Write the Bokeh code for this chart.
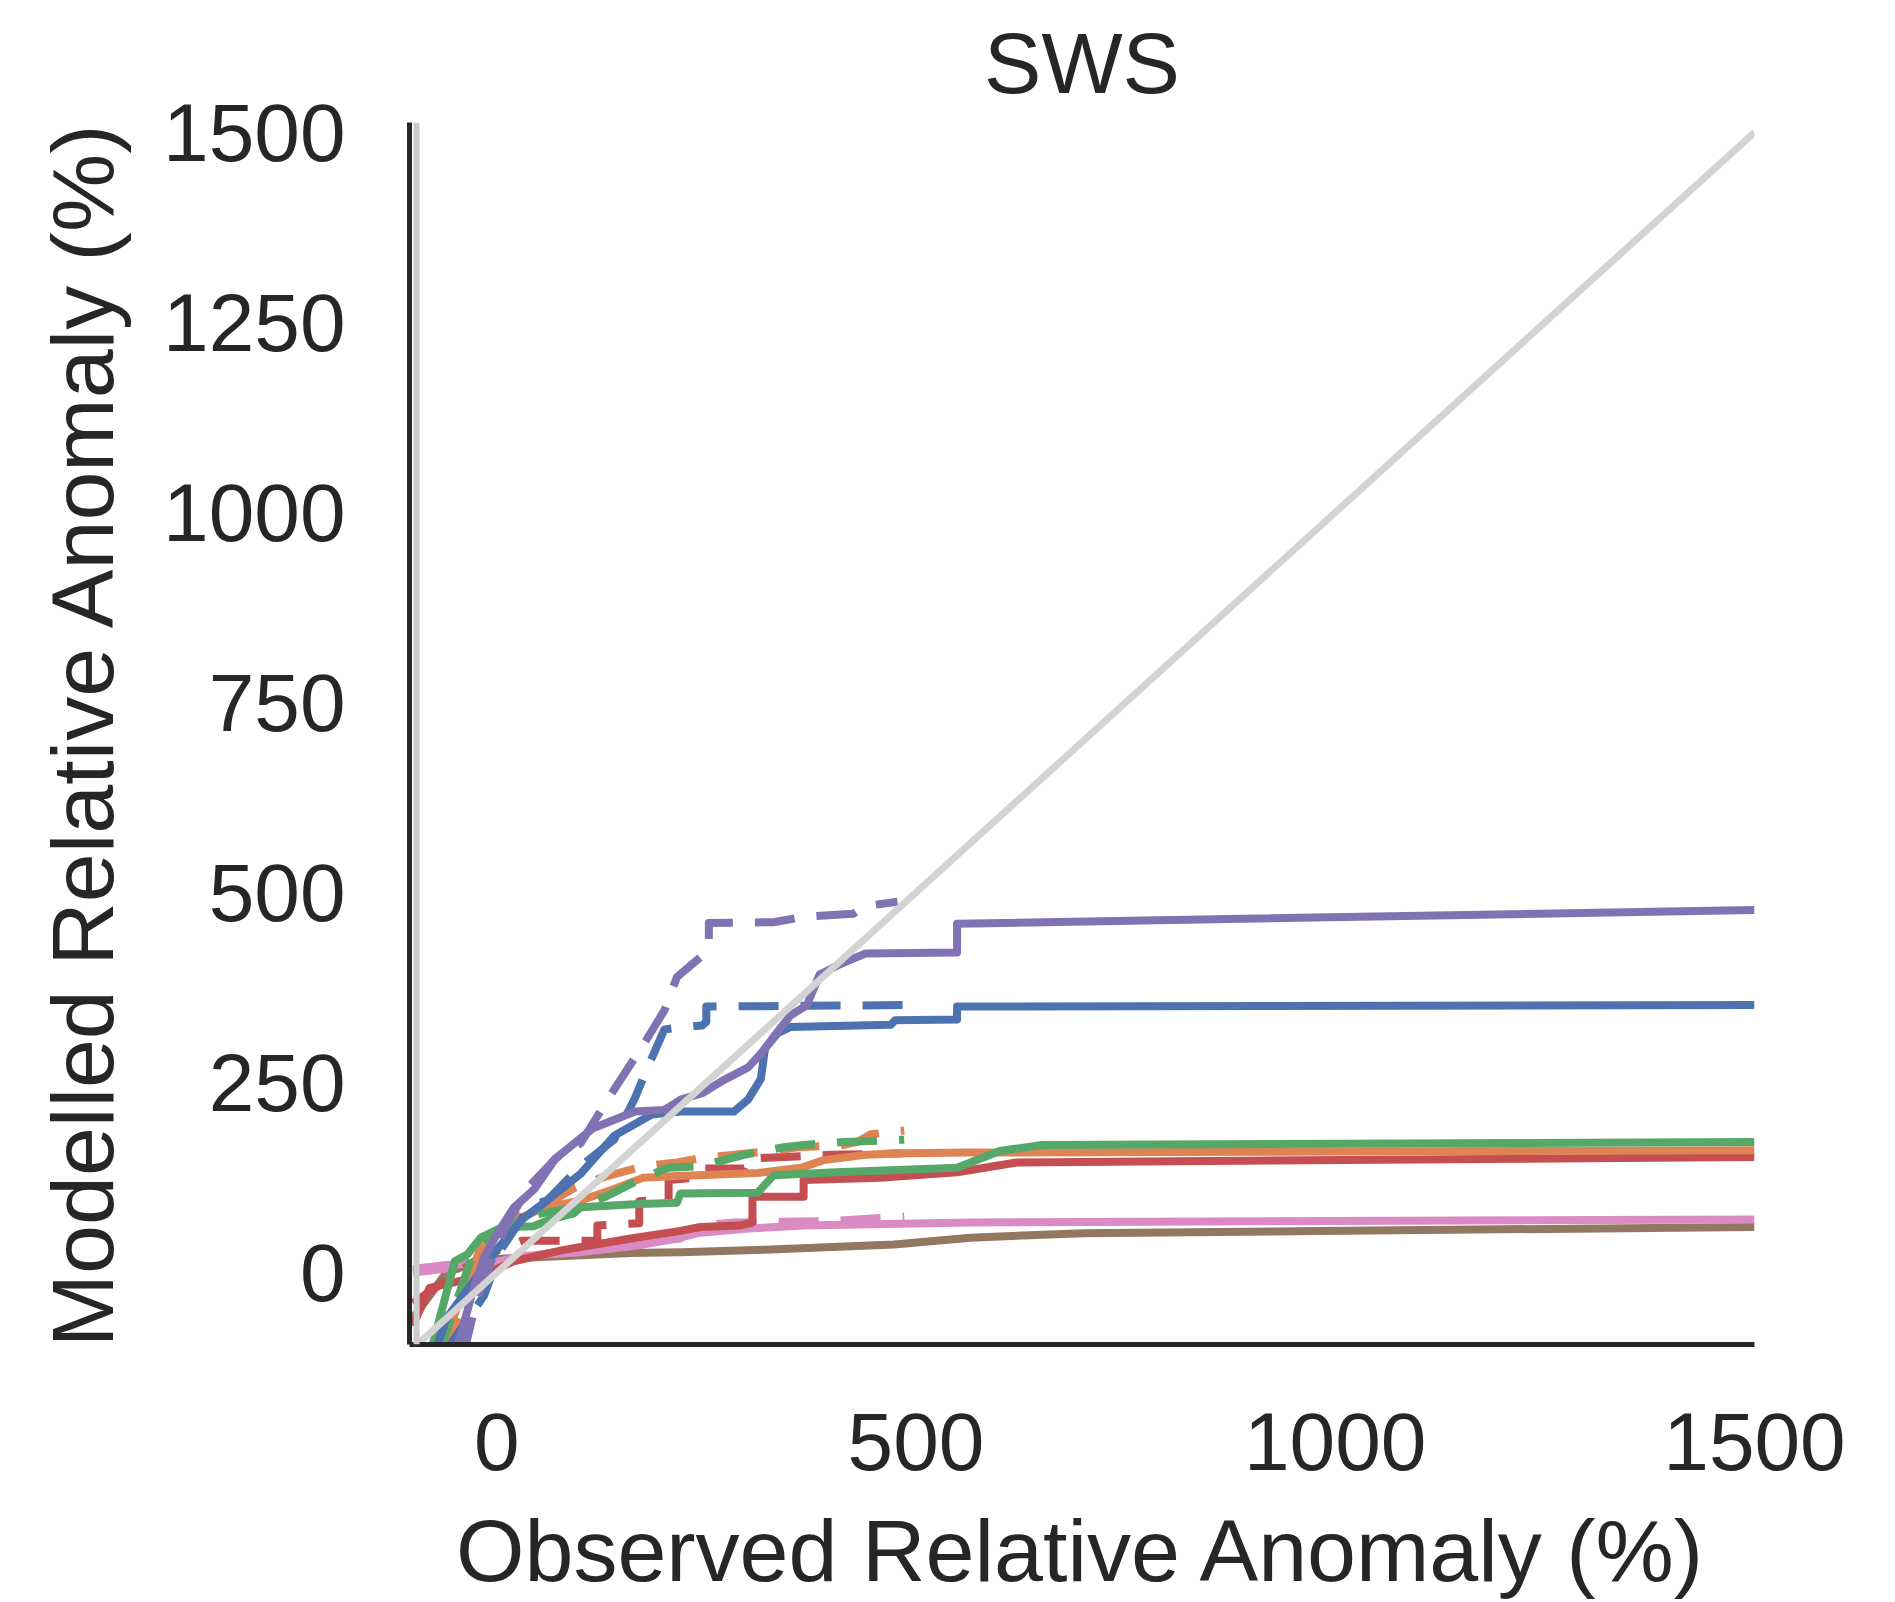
from bokeh.plotting import figure
from bokeh.models import Range1d, Span
from bokeh.embed import file_html
from bokeh.resources import INLINE

# ---------------- data ----------------
identity_x = [-100, 1500]
identity_y = [-100, 1500]

purple_solid_x = [-50, -30, -15, 0, 20, 45, 70, 115, 165, 200, 220, 245, 270, 300, 318, 330, 350, 370, 385, 410, 440, 549, 549, 1500]
purple_solid_y = [-110, -30, 20, 50, 85, 110, 150, 190, 212, 214, 228, 236, 253, 270, 292, 310, 338, 352, 392, 406, 420, 421, 459, 477]

purple_dash_x = [-40, -25, -5, 15, 40, 70, 100, 136, 175, 200, 215, 243, 253, 253, 330, 366, 425, 438, 478]
purple_dash_y = [-110, -40, 20, 70, 115, 150, 170, 234, 300, 345, 389, 415, 428, 460, 461, 468, 472, 482, 488]

blue_solid_x = [-75, -60, -20, 0, 30, 60, 100, 140, 185, 219, 283, 300, 315, 320, 335, 350, 470, 475, 549, 549, 1500]
blue_solid_y = [-110, -60, 0, 30, 70, 95, 130, 180, 208, 212, 212, 228, 255, 295, 315, 323, 326, 332, 333, 350, 352]

blue_dash_x = [-65, -15, 5, 40, 60, 100, 140, 165, 180, 200, 220, 245, 250, 250, 486]
blue_dash_y = [-110, -30, 30, 88, 95, 140, 175, 230, 270, 320, 323, 325, 330, 350, 352]

green_solid_x = [-80, -50, -35, -19, 7, 44, 64, 92, 100, 164, 215, 219, 311, 330, 406, 549, 600, 650, 1500]
green_solid_y = [-110, 15, 24, 46, 60, 61, 70, 78, 86, 90, 92, 104, 105, 128, 132, 138, 160, 168, 172]

green_dash_x = [-70, -30, 0, 40, 90, 130, 175, 205, 243, 295, 342, 366, 414, 486]
green_dash_y = [-110, 20, 55, 75, 85, 100, 125, 138, 140, 155, 165, 168, 172, 175]

orange_solid_x = [-70, -20, 20, 55, 100, 140, 175, 215, 240, 263, 311, 363, 390, 440, 486, 560, 1500]
orange_solid_y = [-110, 30, 68, 85, 95, 110, 125, 127, 128, 129, 131, 138, 148, 155, 157, 158, 161]

orange_dash_x = [-60, -10, 25, 60, 90, 125, 175, 215, 240, 283, 342, 358, 414, 430, 446, 486]
orange_dash_y = [-110, 40, 75, 90, 110, 125, 140, 145, 150, 155, 162, 165, 168, 172, 182, 187]

red_solid_x = [-100, -80, -20, 20, 80, 160, 219, 243, 290, 305, 305, 366, 366, 457, 549, 620, 1500]
red_solid_y = [-70, -20, -5, 15, 30, 45, 55, 60, 62, 66, 100, 100, 122, 125, 132, 145, 152]

red_dash_x = [-100, -60, -20, 30, 120, 120, 170, 170, 205, 205, 240, 245, 295, 300, 400, 486]
red_dash_y = [-40, -10, 20, 42, 42, 62, 65, 94, 97, 122, 125, 137, 137, 150, 155, 157]

pink_solid_x = [-100, -60, 0, 32, 100, 164, 215, 240, 300, 366, 565, 1500]
pink_solid_y = [5, 10, 14, 22, 27, 35, 45, 52, 58, 62, 66, 70]

pink_dash_x = [-100, -40, 0, 40, 100, 164, 219, 243, 283, 400, 486]
pink_dash_y = [0, 8, 14, 22, 32, 40, 45, 62, 66, 68, 74]

brown_solid_x = [-100, -60, -30, 0, 80, 160, 219, 319, 474, 565, 700, 1500]
brown_solid_y = [-60, 0, 12, 18, 22, 26, 27, 30, 37, 46, 52, 60]

x_ticks = [0, 500, 1000, 1500]
y_ticks = [0, 250, 500, 750, 1000, 1250, 1500]

# ---------------- figure ----------------
FONT = "Liberation Sans"
TXT = "#262626"

p = figure(width=1895, height=1602, output_backend="svg", toolbar_location=None,
           x_range=Range1d(-104, 1500), y_range=Range1d(-94.5, 1513),
           min_border_left=409, min_border_right=141,
           min_border_top=122, min_border_bottom=255)

p.title.text = "SWS"
p.title.align = "center"
p.title.vertical_align = "top"
p.title.text_font = FONT
p.title.text_font_size = "86px"
p.title.text_font_style = "normal"
p.title.text_color = TXT
p.title.standoff = 20

p.outline_line_color = None
p.xgrid.visible = False
p.ygrid.visible = False
p.background_fill_color = "white"
p.border_fill_color = "white"

for ax in (p.xaxis[0], p.yaxis[0]):
    ax.axis_line_color = TXT
    ax.axis_line_width = 5
    ax.major_tick_line_color = None
    ax.minor_tick_line_color = None
    ax.major_tick_out = 0
    ax.major_tick_in = 0
    ax.minor_tick_out = 0
    ax.major_label_text_font = FONT
    ax.major_label_text_font_size = "82px"
    ax.major_label_text_color = TXT
    ax.axis_label_text_font = FONT
    ax.axis_label_text_font_size = "88px"
    ax.axis_label_text_font_style = "normal"
    ax.axis_label_text_color = TXT

p.xaxis.ticker = x_ticks
p.yaxis.ticker = y_ticks
p.xaxis.axis_label = "Observed Relative Anomaly (%)"
p.yaxis.axis_label = "Modelled Relative Anomaly (%)"
p.xaxis.major_label_standoff = 68
p.yaxis.major_label_standoff = 64
p.xaxis.axis_label_standoff = 28
p.yaxis.axis_label_standoff = 28

# light shadow line along the left spine
p.add_layout(Span(location=-104 + 8.5, dimension="height", line_color="#cccccc", line_width=6))

BLUE, ORANGE, GREEN, RED = "#4C72B0", "#DD8452", "#55A868", "#C44E52"
PURPLE, BROWN, PINK = "#8172B3", "#937860", "#DA8BC3"
LW = 8
DASH = "40 22"

series = [
    (brown_solid_x, brown_solid_y, BROWN, "solid"),
    (pink_dash_x, pink_dash_y, PINK, DASH),
    (pink_solid_x, pink_solid_y, PINK, "solid"),
    (red_solid_x, red_solid_y, RED, "solid"),
    (red_dash_x, red_dash_y, RED, DASH),
    (orange_solid_x, orange_solid_y, ORANGE, "solid"),
    (orange_dash_x, orange_dash_y, ORANGE, DASH),
    (green_solid_x, green_solid_y, GREEN, "solid"),
    (green_dash_x, green_dash_y, GREEN, DASH),
    (blue_solid_x, blue_solid_y, BLUE, "solid"),
    (blue_dash_x, blue_dash_y, BLUE, DASH),
    (purple_solid_x, purple_solid_y, PURPLE, "solid"),
    (purple_dash_x, purple_dash_y, PURPLE, DASH),
]
for xs, ys, col, dash in series:
    p.line(xs, ys, line_color=col, line_width=LW, line_dash=dash, line_join="round")

p.line(identity_x, identity_y, line_color="#d3d3d3", line_width=7)

open("out.html", "w").write(file_html(p, INLINE))
